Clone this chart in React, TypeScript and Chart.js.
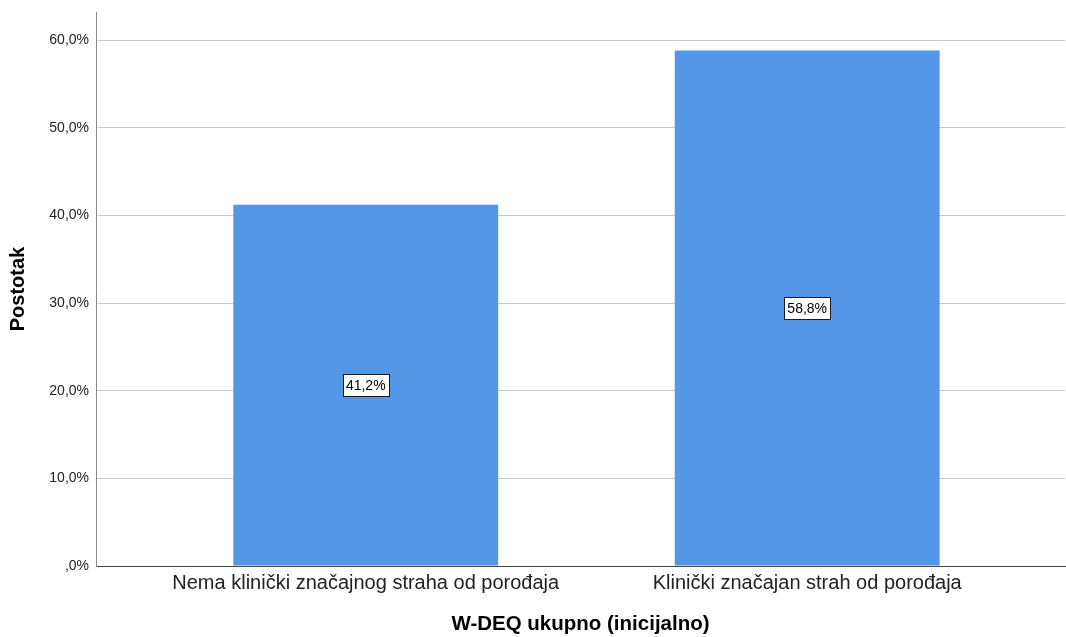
import React, { useEffect, useRef } from "react";
import { Chart, registerables } from "chart.js";

Chart.register(...registerables);

const categories: string[] = [
  "Nema klinički značajnog straha od porođaja",
  "Klinički značajan strah od porođaja",
];
const percentValues: number[] = [41.2, 58.8];
const yTickValues: number[] = [0, 10, 20, 30, 40, 50, 60];
const xAxisTitle = "W-DEQ ukupno (inicijalno)";
const yAxisTitle = "Postotak";

const FONT = "'Liberation Sans', Arial, sans-serif";

const fmtPct = (v: number) => {
  const s = v.toFixed(1).replace(".", ",");
  return (s.startsWith("0,") ? s.slice(1) : s) + "%";
};

const labelPlugin = {
  id: "midLabels",
  afterDatasetsDraw(chart: any) {
    const meta = chart.getDatasetMeta(0);
    const yScale = chart.scales.y;
    const ctx = chart.ctx;
    ctx.save();
    ctx.font = `14px ${FONT}`;
    ctx.textAlign = "center";
    ctx.textBaseline = "middle";
    meta.data.forEach((el: any, i: number) => {
      const v = percentValues[i];
      const cx = el.x;
      const cy = yScale.getPixelForValue(v / 2);
      const text = fmtPct(v);
      const w = Math.round(ctx.measureText(text).width + 6);
      const h = 22;
      const x0 = Math.round(cx - w / 2) + 0.5;
      const y0 = Math.round(cy - h / 2) + 0.5;
      ctx.fillStyle = "#ffffff";
      ctx.fillRect(x0, y0, w, h);
      ctx.strokeStyle = "#1a1a1a";
      ctx.lineWidth = 1;
      ctx.strokeRect(x0, y0, w, h);
      ctx.fillStyle = "#000000";
      ctx.fillText(text, cx, cy + 1);
    });
    ctx.restore();
  },
};

export default function App() {
  const ref = useRef<HTMLCanvasElement | null>(null);
  useEffect(() => {
    if (!ref.current) return;
    const chart = new Chart(ref.current, {
      type: "bar",
      data: {
        datasets: [
          {
            data: percentValues.map((v, i) => ({ x: i, y: v })),
            backgroundColor: "#5596e6",
            borderWidth: 0,
            categoryPercentage: 1,
            barPercentage: 0.6,
          },
        ],
      },
      options: {
        responsive: false,
        animation: false,
        devicePixelRatio: 1,
        layout: { padding: { top: 12, right: 1, left: 0, bottom: 0 } },
        plugins: {
          legend: { display: false },
          tooltip: { enabled: false },
        },
        scales: {
          x: {
            type: "linear",
            offset: false,
            min: -0.611,
            max: 1.584,
            grid: { display: false, drawTicks: false },
            border: { display: true, color: "#444444", width: 1 },
            afterBuildTicks: (s: any) => {
              s.ticks = categories.map((_, i) => ({ value: i }));
            },
            afterFit: (s: any) => {
              s.height = 71;
            },
            ticks: {
              callback: (v: any) => categories[Number(v)] ?? "",
              color: "#222222",
              font: { family: FONT, size: 20 },
              padding: 5,
              maxRotation: 0,
              autoSkip: false,
            },
            title: {
              display: true,
              text: xAxisTitle,
              color: "#000000",
              font: { family: FONT, size: 20.5, weight: "bold" },
              padding: { top: 0, bottom: 0 },
            },
          },
          y: {
            min: 0,
            max: 63.2,
            afterBuildTicks: (s: any) => {
              s.ticks = yTickValues.map((v) => ({ value: v }));
            },
            afterFit: (s: any) => {
              s.width = 96;
              s.paddingTop = 0;
              s.paddingBottom = 0;
            },
            grid: { color: "#c8c8c8", lineWidth: 1, drawTicks: false },
            border: { display: true, color: "#888888", width: 1 },
            ticks: {
              callback: (v: any) => fmtPct(Number(v)),
              color: "#222222",
              font: { family: FONT, size: 14 },
              padding: 7,
            },
            title: {
              display: true,
              text: yAxisTitle,
              color: "#000000",
              font: { family: FONT, size: 20, weight: "bold" },
              padding: { top: 6, bottom: 0 },
            },
          },
        },
      },
      plugins: [labelPlugin],
    } as any);
    return () => chart.destroy();
  }, []);
  return (
    <div style={{ position: "absolute", left: 0, top: 0, width: 1066, height: 637, background: "#fff" }}>
      <canvas ref={ref} width={1066} height={637} />
    </div>
  );
}
